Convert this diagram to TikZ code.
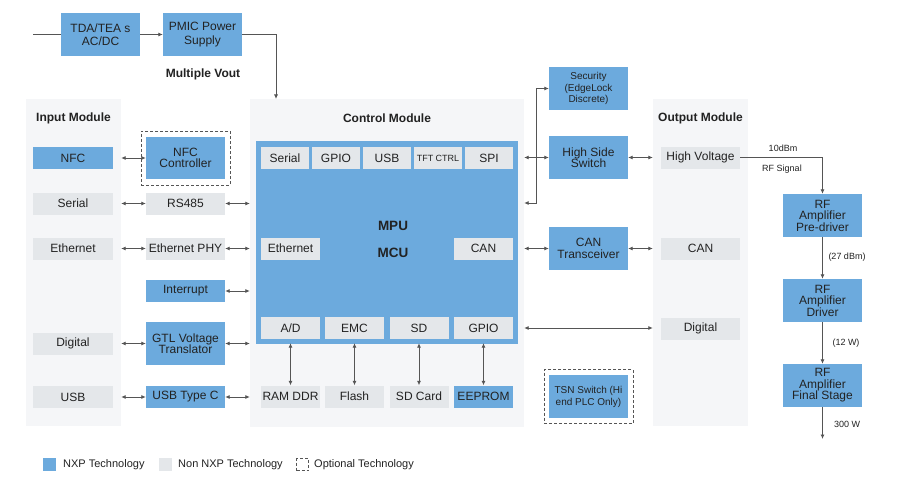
\documentclass[tikz,border=0pt]{standalone}
\usepackage{fontspec}
\setmainfont{Liberation Sans}
\usetikzlibrary{arrows.meta}
\definecolor{nxpblue}{HTML}{6CAADD}
\definecolor{boxgray}{HTML}{E4E7EA}
\definecolor{panelgray}{HTML}{F5F6F8}
\definecolor{inkgray}{HTML}{222222}
\definecolor{wiregray}{HTML}{555555}
\tikzset{
  box/.style={inner sep=0pt,minimum width=79pt,minimum height=22pt,align=center,text=inkgray,
    font=\fontsize{12}{11.5}\selectfont},
  nxp/.style={box,fill=nxpblue},
  other/.style={box,fill=boxgray},
  panel/.style={fill=panelgray,inner sep=0pt},
  optional/.style={draw=wiregray,dash pattern=on 3pt off 2pt,inner sep=0pt,minimum width=89pt,minimum height=54pt},
  title/.style={font=\fontsize{12}{14}\selectfont\bfseries,text=inkgray},
  small/.style={font=\fontsize{9}{11}\selectfont,text=inkgray},
  wire/.style={draw=wiregray,line width=0.8pt,>={Latex[length=4.5pt,width=4pt]}}
}
\begin{document}
\begin{tikzpicture}[x=1pt,y=-1pt]
        \useasboundingbox (0,0) rectangle (898,503);
        %% panels
        \node[panel,minimum width=95pt,minimum height=327pt] (inpanel) at (73.5,262.5) {};
        \node[panel,minimum width=274pt,minimum height=328pt] (ctrlpanel) at (387,263) {};
        \node[panel,minimum width=95pt,minimum height=327pt] (outpanel) at (700.5,262.5) {};
        \node[title] (intitle) at (73.5,118) {Input Module};
        \node[title] (ctrltitle) at (387,118) {Control Module};
        \node[title] (outtitle) at (700.5,118) {Output Module};
        %% power supply
        \coordinate (acin) at (33,34.5);
        \coordinate (voutin) at (276,99);
        \node[nxp,minimum height=43pt,font=\fontsize{12}{13.5}\selectfont] (tda) at (100.5,34.5) {TDA/TEA s\\AC/DC};
        \node[nxp,minimum height=43pt,font=\fontsize{12}{13.5}\selectfont] (pmic) at (202.5,34.5) {PMIC Power\\Supply};
        \node[title] (vout) at (203,74) {Multiple Vout};
        \draw[wire] (acin) -- (tda.west);
        \draw[wire,->] (tda.east) -- (pmic.west);
        \draw[wire,->] (pmic.east) -| (voutin);
        %% input module
        \node[nxp,minimum width=80pt] (nfc) at (73,158) {NFC};
        \node[other,minimum width=80pt] (serial) at (73,203.5) {Serial};
        \node[other,minimum width=80pt] (eth) at (73,248.5) {Ethernet};
        \node[other,minimum width=80pt] (digital) at (73,343.5) {Digital};
        \node[other,minimum width=80pt] (usb) at (73,397) {USB};
        %% interface chips
        \node[optional] (nfcopt) at (185.5,158) {};
        \node[nxp,minimum height=42pt] (nfcctrl) at (185.5,158) {NFC\\Controller};
        \node[other] (rs485) at (185.5,203.5) {RS485};
        \node[other] (ethphy) at (185.5,248.5) {Ethernet PHY};
        \node[nxp] (interrupt) at (185.5,291) {Interrupt};
        \node[nxp,minimum height=43pt] (gtl) at (185.5,343.5) {GTL Voltage\\Translator};
        \node[nxp] (usbc) at (185.5,397) {USB Type C};
        \foreach \a/\b in {nfc/nfcctrl,serial/rs485,eth/ethphy,digital/gtl,usb/usbc}
          \draw[wire,<->] (inpanel.east |- \a) -- (\b.west);
        \foreach \b in {rs485,ethphy,interrupt,gtl,usbc}
          \draw[wire,<->] (\b.east) -- (ctrlpanel.west |- \b);
        %% processor
        \node[fill=nxpblue,inner sep=0pt,minimum width=262pt,minimum height=203pt] (mpu) at (387,242.5) {};
        \node[title,font=\fontsize{13.5}{15}\selectfont\bfseries] (mputext) at (393,226) {MPU};
        \node[title,font=\fontsize{13.5}{15}\selectfont\bfseries] (mcutext) at (393,253) {MCU};
        \node[other,minimum width=48pt] (pserial) at (285,158) {Serial};
        \node[other,minimum width=48pt] (pgpio) at (336,158) {GPIO};
        \node[other,minimum width=48pt] (pusb) at (387,158) {USB};
        \node[other,minimum width=48pt,font=\fontsize{9}{11}\selectfont] (ptft) at (438,158) {TFT CTRL};
        \node[other,minimum width=48pt] (pspi) at (489,158) {SPI};
        \node[other,minimum width=59pt] (peth) at (290.5,248.5) {Ethernet};
        \node[other,minimum width=59pt] (pcan) at (483.5,248.5) {CAN};
        \node[other,minimum width=59pt] (pad) at (290.5,328) {A/D};
        \node[other,minimum width=59pt] (pemc) at (354.5,328) {EMC};
        \node[other,minimum width=59pt] (psd) at (419,328) {SD};
        \node[other,minimum width=59pt] (pgpiob) at (483.5,328) {GPIO};
        %% memories
        \node[other,minimum width=59pt] (ram) at (290.5,396.5) {RAM DDR};
        \node[other,minimum width=59pt] (flash) at (354.5,396.5) {Flash};
        \node[other,minimum width=59pt] (sdcard) at (419,396.5) {SD Card};
        \node[nxp,minimum width=59pt] (eeprom) at (483.5,396.5) {EEPROM};
        \foreach \a/\b in {pad/ram,pemc/flash,psd/sdcard,pgpiob/eeprom}
          \draw[wire,<->] ([yshift=1pt]mpu.south -| \a) -- (\b.north);
        %% right side chips
        \node[nxp,minimum height=43pt,font=\fontsize{10}{11.5}\selectfont] (sec) at (588.5,88.5) {Security\\(EdgeLock\\Discrete)};
        \node[nxp,minimum height=43pt] (hss) at (588.5,157.5) {High Side\\Switch};
        \node[nxp,minimum height=43pt] (cant) at (588.5,248.5) {CAN\\Transceiver};
        \node[optional] (tsnopt) at (588.5,396.5) {};
        \node[nxp,minimum height=43pt,font=\fontsize{10}{12}\selectfont] (tsn) at (588.5,396.5) {TSN Switch (Hi\\end PLC Only)};
        \coordinate (secbus) at (536,203);
        \draw[wire,<->] (secbus -| ctrlpanel.east) -- (secbus) |- (sec.west);
        \draw[wire,<->] (ctrlpanel.east |- hss) -- (hss.west);
        \draw[wire,<->] (ctrlpanel.east |- cant) -- (cant.west);
        \draw[wire,<->] (hss.east) -- (outpanel.west |- hss);
        \draw[wire,<->] (cant.east) -- (outpanel.west |- cant);
        \draw[wire,<->] (ctrlpanel.east |- pgpiob) -- (outpanel.west |- pgpiob);
        %% output module
        \node[other] (hv) at (700.5,157.5) {High Voltage};
        \node[other] (outcan) at (700.5,248.5) {CAN};
        \node[other] (outdig) at (700.5,328.5) {Digital};
        %% rf chain
        \node[nxp,minimum height=43pt] (pre) at (822.5,215.5) {RF\\Amplifier\\Pre-driver};
        \node[nxp,minimum height=43pt] (drv) at (822.5,300.5) {RF\\Amplifier\\Driver};
        \node[nxp,minimum height=43pt] (fin) at (822.5,385.5) {RF\\Amplifier\\Final Stage};
        \coordinate (rfout) at (822.5,439);
        \draw[wire,->] (hv.east) -| (pre.north);
        \draw[wire,->] (pre.south) -- (drv.north);
        \draw[wire,->] (drv.south) -- (fin.north);
        \draw[wire,->] (fin.south) -- (rfout);
        \node[small] (dbm) at (783,148) {10dBm};
        \node[small] (rfsig) at (782,169) {RF Signal};
        \node[small] (p27) at (847,257) {(27 dBm)};
        \node[small] (p12) at (846,343) {(12 W)};
        \node[small] (p300) at (847,424) {300 W};
        %% legend
        \node[fill=nxpblue,inner sep=0pt,minimum size=13pt] (legnxp) at (49.5,464.5) {};
        \node[anchor=west,inner sep=0pt,text=inkgray,font=\fontsize{11}{13}\selectfont] (legnxptext) at (63,465) {NXP Technology};
        \node[fill=boxgray,inner sep=0pt,minimum size=13pt] (legnon) at (165,464.5) {};
        \node[anchor=west,inner sep=0pt,text=inkgray,font=\fontsize{11}{13}\selectfont] (legnontext) at (178,465) {Non NXP Technology};
        \node[draw=wiregray,dash pattern=on 3pt off 2pt,inner sep=0pt,minimum size=12pt] (legopt) at (302.5,464.5) {};
        \node[anchor=west,inner sep=0pt,text=inkgray,font=\fontsize{11}{13}\selectfont] (legopttext) at (314,465) {Optional Technology};
    \end{tikzpicture}
\end{document}
